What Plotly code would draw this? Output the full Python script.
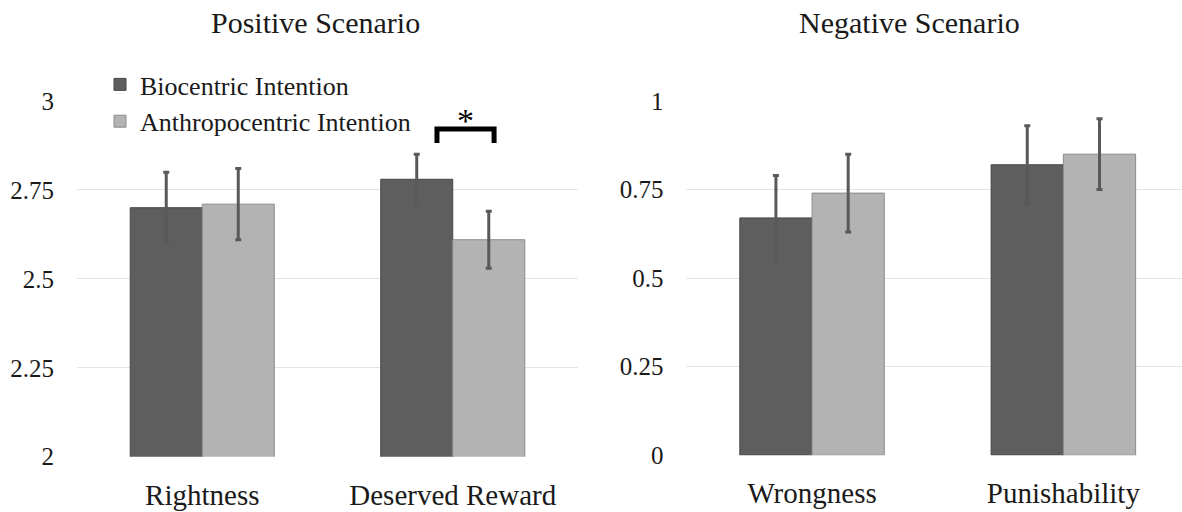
import plotly.graph_objects as go

# ---- data ----
pos_categories = ["Rightness", "Deserved Reward"]
pos_bio = [2.70, 2.78]
pos_bio_err = [0.10, 0.07]
pos_anthro = [2.71, 2.61]
pos_anthro_err = [0.10, 0.08]

neg_categories = ["Wrongness", "Punishability"]
neg_bio = [0.67, 0.82]
neg_bio_err = [0.12, 0.11]
neg_anthro = [0.74, 0.85]
neg_anthro_err = [0.11, 0.10]

pos_ticks = [2, 2.25, 2.5, 2.75, 3]
pos_ticktext = ["2", "2.25", "2.5", "2.75", "3"]
neg_ticks = [0, 0.25, 0.5, 0.75, 1]
neg_ticktext = ["0", "0.25", "0.5", "0.75", "1"]

series_names = ["Biocentric Intention", "Anthropocentric Intention"]

# ---- style ----
FONT = "'Liberation Serif', 'Times New Roman', Times, serif"
DARK = "#5e5e5e"
LIGHT = "#b3b3b3"
DARK_LINE = "#474747"
LIGHT_LINE = "#8c8c8c"
ERR = "#595959"
GRID = "#e4e4e4"
W, H = 1182, 512

fig = go.Figure()

def add_bars(cats, vals, errs, color, line, name, xa, ya, show):
    fig.add_trace(go.Bar(
        x=cats, y=vals, name=name, xaxis=xa, yaxis=ya,
        marker=dict(color=color, line=dict(color=line, width=1)),
        error_y=dict(type="data", array=errs, visible=True,
                     color=ERR, thickness=3, width=3),
        showlegend=show, legendgroup=name,
    ))

add_bars(pos_categories, pos_bio, pos_bio_err, DARK, DARK_LINE, series_names[0], "x", "y", True)
add_bars(pos_categories, pos_anthro, pos_anthro_err, LIGHT, LIGHT_LINE, series_names[1], "x", "y", True)
add_bars(neg_categories, neg_bio, neg_bio_err, DARK, DARK_LINE, series_names[0], "x2", "y2", False)
add_bars(neg_categories, neg_anthro, neg_anthro_err, LIGHT, LIGHT_LINE, series_names[1], "x2", "y2", False)

def px_x(p):
    return p / W

def px_y(p):
    return (H - p) / H

tickfont = dict(family=FONT, size=25, color="#1a1a1a")
catfont = dict(family=FONT, size=29, color="#1a1a1a")

fig.update_layout(
    width=W, height=H,
    margin=dict(l=0, r=0, t=0, b=0, autoexpand=False),
    paper_bgcolor="white", plot_bgcolor="white",
    barmode="group", bargap=0.425, bargroupgap=0,
    font=dict(family=FONT, color="#1a1a1a"),
    xaxis=dict(domain=[px_x(77), px_x(578)], anchor="y",
               range=[-0.5, 1.5], showgrid=False, showline=False,
               ticks="", tickfont=catfont, ticklabelstandoff=18,
               automargin=False),
    yaxis=dict(domain=[px_y(456.7), px_y(101)], anchor="x",
               range=[2, 3], tickvals=pos_ticks, ticktext=pos_ticktext,
               showgrid=True, gridcolor=GRID, gridwidth=1,
               zeroline=False, showline=False, ticks="",
               tickfont=tickfont, ticklabelstandoff=22, automargin=False),
    xaxis2=dict(domain=[px_x(686.4), 1.0], anchor="y2",
                range=[-0.5, 1.472], showgrid=False, showline=False,
                ticks="", tickfont=catfont, ticklabelstandoff=18,
                automargin=False),
    yaxis2=dict(domain=[px_y(455.3), px_y(101)], anchor="x2",
                range=[0, 1], tickvals=neg_ticks, ticktext=neg_ticktext,
                showgrid=True, gridcolor=GRID, gridwidth=1,
                zeroline=False, showline=False, ticks="",
                tickfont=tickfont, ticklabelstandoff=22, automargin=False),
    legend=dict(x=px_x(100), y=px_y(61), xanchor="left", yanchor="top",
                bgcolor="white", borderwidth=0,
                font=dict(family=FONT, size=26, color="#1a1a1a"),
                tracegroupgap=0, itemwidth=30, traceorder="normal"),
    showlegend=True,
)

# Titles
fig.add_annotation(text="Positive Scenario", x=px_x(315), y=px_y(22),
                   xref="paper", yref="paper", showarrow=False,
                   xanchor="center", yanchor="middle",
                   font=dict(family=FONT, size=30, color="#1a1a1a"))
fig.add_annotation(text="Negative Scenario", x=px_x(909), y=px_y(22),
                   xref="paper", yref="paper", showarrow=False,
                   xanchor="center", yanchor="middle",
                   font=dict(family=FONT, size=30, color="#1a1a1a"))

# Significance bracket
x0, x1 = 0.937, 1.165
ytop, ybot = 2.921, 2.882
fig.add_shape(type="path",
              path=f"M {x0} {ybot} L {x0} {ytop} L {x1} {ytop} L {x1} {ybot}",
              xref="x", yref="y", line=dict(color="black", width=5))
fig.add_annotation(text="*", x=(x0 + x1) / 2, y=2.946, xref="x", yref="y",
                   showarrow=False, xanchor="center", yanchor="middle",
                   font=dict(family=FONT, size=34, color="black"))

fig.write_html("out.html",
               config={"displayModeBar": False},
               post_script="document.body.style.margin='0';document.body.style.overflow='hidden';")
